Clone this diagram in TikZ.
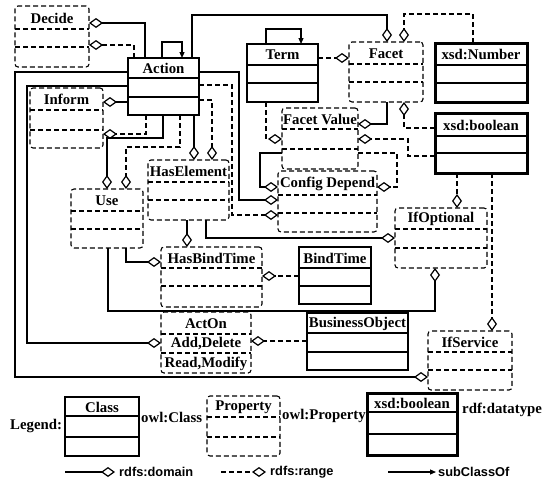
\documentclass[tikz,border=0pt]{standalone}
\usepackage{fontspec}
\setmainfont{Liberation Serif}
\newfontfamily\lgsans{Liberation Sans}
\usetikzlibrary{arrows.meta}
\newcommand{\umlbox}[9]{%
  \node[#2box, minimum width={(#5)-(#3)}, minimum height={(#6)-(#4)}, anchor=north west] (#1) at (#3,#4) {};
  \draw[#2div] (#3,#7) -- (#5,#7);
  \draw[#2div] (#3,#8) -- (#5,#8);
  \node[titletext] (#1t) at ({(#3+#5)/2},{(#4+#7)/2+0.5}) {#9};
}
\begin{document}
\begin{tikzpicture}[x=1pt,y=-1pt,
  classbox/.style={draw, line width=1.2pt, inner sep=0pt, outer sep=0pt},
  classdiv/.style={line width=1.2pt},
  propbox/.style={draw, dash pattern=on 5pt off 3pt, line width=1.1pt, rounded corners=3pt, inner sep=0pt, outer sep=0pt},
  propdiv/.style={line width=1.1pt, dash pattern=on 5pt off 3pt},
  dtbox/.style={draw, line width=3pt, inner sep=0pt, outer sep=0pt},
  dtdiv/.style={line width=2.5pt},
  titletext/.style={font=\bfseries\fontsize{14.8}{16}\selectfont, inner sep=0pt},
  sidetext/.style={font=\bfseries\fontsize{14.8}{16}\selectfont, inner sep=0pt, anchor=west},
  lgtext/.style={font=\lgsans\bfseries\fontsize{12.8}{14}\selectfont, inner sep=0pt, anchor=west},
  domline/.style={line width=1.2pt, -{Diamond[open,length=14pt,width=10pt]}},
  rngline/.style={line width=1.2pt, dash pattern=on 5pt off 3pt, -{Diamond[open,length=14pt,width=10pt]}},
  subline/.style={line width=1.2pt, -{Triangle[length=6pt,width=5pt]}},
]
\useasboundingbox (0,0) rectangle (548,479);

% ---- boxes
\umlbox{Decide}{prop}{15}{6}{89}{67}{29}{47}{Decide}
\umlbox{Action}{class}{128}{58}{199}{115}{78}{97}{Action}
\umlbox{Term}{class}{247}{44}{318}{102}{65}{83}{Term}
\umlbox{Facet}{prop}{349}{42}{423}{102}{64}{82}{Facet}
\umlbox{Number}{dt}{435}{43}{527}{102}{65}{83}{xsd:Number}
\umlbox{Boolean}{dt}{435}{113}{527}{173}{136}{153}{xsd:boolean}
\umlbox{FacetValue}{prop}{282}{108}{358}{169}{129}{149}{Facet Value}
\umlbox{ConfigDepend}{prop}{278}{171}{377}{232}{195}{213}{Config Depend}
\umlbox{Inform}{prop}{30}{88}{103}{148}{110}{130}{Inform}
\umlbox{Use}{prop}{71}{189}{143}{248}{211}{229}{Use}
\umlbox{HasElement}{prop}{148}{160}{229}{220}{182}{200}{HasElement}
\umlbox{HasBindTime}{prop}{161}{247}{262}{307}{268}{286}{HasBindTime}
\umlbox{BindTime}{class}{299}{247}{371}{304}{268}{286}{BindTime}
\umlbox{ActOn}{prop}{161}{312}{251}{373}{334}{353}{ActOn}
\node[titletext] (ActOnA) at (206,344) {Add,Delete};
\node[titletext] (ActOnB) at (206,363.5) {Read,Modify};
\umlbox{BusinessObject}{class}{307}{313}{408}{370}{333}{352}{BusinessObject}
\umlbox{IfOptional}{prop}{395}{208}{487}{268}{229}{248}{IfOptional}
\umlbox{IfService}{prop}{428}{331}{512}{390}{352}{370}{IfService}

% ---- subclass loops
\draw[subline] (162,0 |- Action.north) -- (162,42) -| (182,0 |- Action.north);
\draw[subline] (266,0 |- Term.north) -- (266,29) -| (301,0 |- Term.north);

% ---- connectors
\draw[domline] (145,0 |- Action.north) |- (Decide.east |- 0,23);
\draw[rngline] (134,0 |- Action.north) |- (Decide.east |- 0,45);
\draw[domline] (192,0 |- Action.north) -- (192,15) -| (387,0 |- Facet.north);
\draw[rngline] (473,0 |- Number.north) -- (473,14) -| (404,0 |- Facet.north);
\draw[rngline] (Term.east |- 0,58) -- (Facet.west |- 0,58);
\draw[domline] (387,0 |- Facet.south) |- (FacetValue.east |- 0,124);
\draw[rngline] (Boolean.west |- 0,128) -| (404,0 |- Facet.south);
\draw[rngline] (266,0 |- Term.south) |- (FacetValue.west |- 0,139);
\draw[rngline] (Boolean.west |- 0,156) -| (408,139) -- (FacetValue.east |- 0,139);
\draw[rngline] (FacetValue.east |- 0,153) -- (397,153) |- (ConfigDepend.east |- 0,187);
\draw[domline] (FacetValue.west |- 0,153) -- (260,153) |- (ConfigDepend.west |- 0,187);
\draw[domline] (Action.east |- 0,72) -- (239,72) |- (ConfigDepend.west |- 0,200);
\draw[rngline] (Action.east |- 0,85) -- (232,85) |- (ConfigDepend.west |- 0,215);
\draw[domline] (194,0 |- Action.south) -- (194,0 |- HasElement.north);
\draw[rngline] (Action.east |- 0,100) -| (212,0 |- HasElement.north);
\draw[domline] (Action.west |- 0,102) -- (Inform.east |- 0,102);
\draw[rngline] (146,0 |- Action.south) |- (Inform.east |- 0,134);
\draw[domline] (163,0 |- Action.south) -- (163,138) -| (107,0 |- Use.north);
\draw[rngline] (180,0 |- Action.south) -- (180,147) -| (126,0 |- Use.north);
\draw[domline] (187,0 |- HasElement.south) -- (187,0 |- HasBindTime.north);
\draw[domline] (206,0 |- HasElement.south) |- (IfOptional.west |- 0,238);
\draw[domline] (126,0 |- Use.south) |- (HasBindTime.west |- 0,262);
\draw[domline] (108,0 |- Use.south) -- (108,311) -| (435,0 |- IfOptional.south);
\draw[rngline] (BindTime.west |- 0,276) -- (HasBindTime.east |- 0,276);
\draw[domline] (Action.west |- 0,86) -- (27,86) |- (ActOn.west |- 0,343);
\draw[domline] (Action.west |- 0,72) -- (15,72) |- (IfService.west |- 0,377);
\draw[rngline] (BusinessObject.west |- 0,341) -- (ActOn.east |- 0,341);
\draw[rngline] (457,0 |- Boolean.south) -- (457,0 |- IfOptional.north);
\draw[rngline] (492,0 |- Boolean.south) -- (492,0 |- IfService.north);

% ---- legend
\node[sidetext] (lgLegend) at (10,426) {Legend:};
\umlbox{LgClass}{class}{65}{397}{139}{456}{416}{437}{Class}
\node[sidetext] (lgClassT) at (141,417) {owl:Class};
\umlbox{LgProp}{prop}{207}{396}{280}{456}{417}{437}{Property}
\node[sidetext] (lgPropT) at (282,416) {owl:Property};
\umlbox{LgDt}{dt}{367}{393}{457}{455}{412}{434}{xsd:boolean}
\node[sidetext] (lgDtT) at (462,410) {rdf:datatype};

\node[lgtext] (lgdom) at (119,472) {rdfs:domain};
\coordinate (ld1) at (65,472);
\draw[domline] (ld1) -- ([xshift=-4pt]lgdom.west);
\node[lgtext] (lgrng) at (270,472) {rdfs:range};
\coordinate (lr1) at (221,472);
\draw[rngline] (lr1) -- ([xshift=-4pt]lgrng.west);
\node[lgtext] (lgsub) at (438,472) {subClassOf};
\coordinate (ls1) at (388,472);
\draw[subline] (ls1) -- ([xshift=-2pt]lgsub.west);
\end{tikzpicture}
\end{document}
